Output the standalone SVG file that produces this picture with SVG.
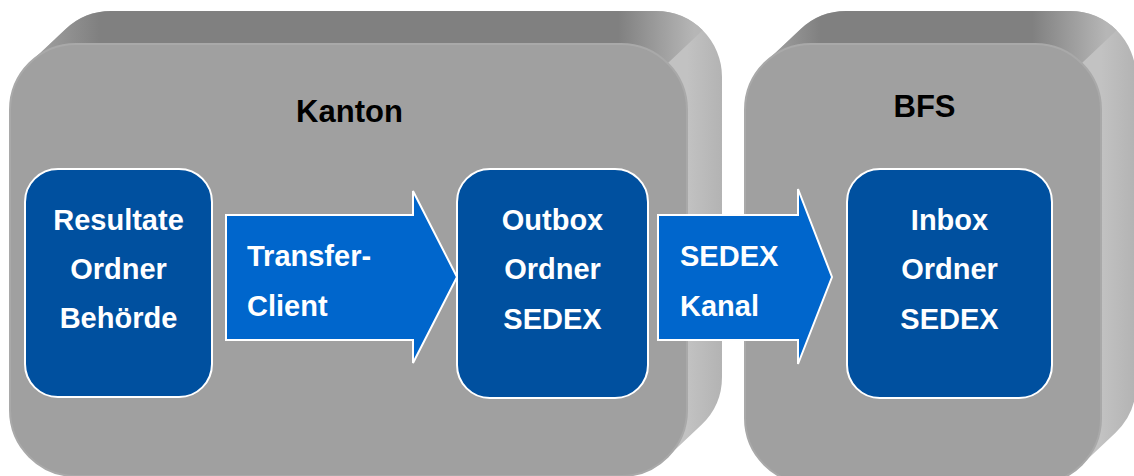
<svg xmlns="http://www.w3.org/2000/svg" width="1134" height="476" viewBox="0 0 1134 476">
<defs>
<linearGradient id="topK" gradientUnits="userSpaceOnUse" x1="30" y1="0" x2="722" y2="0">
<stop offset="0" stop-color="#a4a4a4"/>
<stop offset="0.1" stop-color="#808080"/>
<stop offset="0.85" stop-color="#808080"/>
<stop offset="0.96" stop-color="#b6b6b6"/>
<stop offset="1" stop-color="#b6b6b6"/>
</linearGradient>
<linearGradient id="topB" gradientUnits="userSpaceOnUse" x1="765" y1="0" x2="1136" y2="0">
<stop offset="0" stop-color="#a4a4a4"/>
<stop offset="0.15" stop-color="#808080"/>
<stop offset="0.72" stop-color="#808080"/>
<stop offset="0.92" stop-color="#b6b6b6"/>
<stop offset="1" stop-color="#b6b6b6"/>
</linearGradient>
<linearGradient id="sideK" gradientUnits="userSpaceOnUse" x1="687" y1="0" x2="722" y2="0">
<stop offset="0" stop-color="#c2c2c2"/>
<stop offset="1" stop-color="#b3b3b3"/>
</linearGradient>
<linearGradient id="sideB" gradientUnits="userSpaceOnUse" x1="1101" y1="0" x2="1136" y2="0">
<stop offset="0" stop-color="#c2c2c2"/>
<stop offset="1" stop-color="#b3b3b3"/>
</linearGradient>
</defs>
<style>
.front{fill:#a0a0a0;stroke:#a9a9a9;stroke-width:2}
.node{fill:#00509f;stroke:#ffffff;stroke-width:2}
.arrow{fill:#0066cc;stroke:#ffffff;stroke-width:2}
.title{font-family:"Liberation Sans",Arial,sans-serif;font-weight:bold;font-size:31px;fill:#000000;text-anchor:middle}
.lbl{font-family:"Liberation Sans",Arial,sans-serif;font-weight:bold;font-size:29px;fill:#ffffff;text-anchor:middle}
.albl{font-family:"Liberation Sans",Arial,sans-serif;font-weight:bold;font-size:29px;fill:#ffffff}
</style>
<rect width="1134" height="476" fill="#ffffff"/>

<g id="kanton">
<path fill="url(#sideK)" d="M30.7,62 L65.7,29 A66,66 0 0 1 111,11 L656,11 A66,66 0 0 1 722,77 L722,377 A66,66 0 0 1 701.3,425 L666.3,458 Z"/>
<path fill="url(#topK)" d="M30.7,62 L65.7,29 A66,66 0 0 1 111,11 L656,11 A66,66 0 0 1 702.7,30.3 L667.7,63.3 A66,66 0 0 0 621,44 L76,44 A66,66 0 0 0 30.7,62 Z"/>
<rect class="front" x="10" y="44" width="677" height="432" rx="66" ry="66"/>
<text class="title" x="349.5" y="122">Kanton</text>
</g>

<g id="bfs">
<path fill="url(#sideB)" d="M765.7,62 L800.7,29 A66,66 0 0 1 846,11 L1070,11 A66,66 0 0 1 1136,77 L1136,385 A66,66 0 0 1 1115.3,433 L1080.3,466 Z"/>
<path fill="url(#topB)" d="M765.7,62 L800.7,29 A66,66 0 0 1 846,11 L1070,11 A66,66 0 0 1 1116.7,30.3 L1081.7,63.3 A66,66 0 0 0 1035,44 L811,44 A66,66 0 0 0 765.7,62 Z"/>
<rect class="front" x="745" y="44" width="356" height="440" rx="66" ry="66"/>
<text class="title" x="924.5" y="117">BFS</text>
</g>

<g id="resultate">
<rect class="node" x="25" y="169" width="187" height="228" rx="33" ry="33"/>
<text class="lbl" x="118.5" y="230">Resultate</text>
<text class="lbl" x="118.5" y="279">Ordner</text>
<text class="lbl" x="118.5" y="328">Behörde</text>
</g>

<g id="outbox">
<rect class="node" x="457" y="169" width="191" height="229" rx="33" ry="33"/>
<text class="lbl" x="552.5" y="230">Outbox</text>
<text class="lbl" x="552.5" y="279">Ordner</text>
<text class="lbl" x="552.5" y="329">SEDEX</text>
</g>

<g id="inbox">
<rect class="node" x="847" y="169" width="205" height="229" rx="33" ry="33"/>
<text class="lbl" x="949.5" y="230">Inbox</text>
<text class="lbl" x="949.5" y="279">Ordner</text>
<text class="lbl" x="949.5" y="329">SEDEX</text>
</g>

<g id="connectors">
<g id="transfer-client">
<path class="arrow" d="M226,215 L413,215 L413,191 L457,277 L413,363 L413,340 L226,340 Z"/>
<text class="albl" x="247" y="266">Transfer-</text>
<text class="albl" x="247" y="316">Client</text>
</g>
<g id="sedex-kanal">
<path class="arrow" d="M658,215 L798,215 L798,189 L832,277 L798,364 L798,340 L658,340 Z"/>
<text class="albl" x="680" y="266">SEDEX</text>
<text class="albl" x="680" y="316">Kanal</text>
</g>
</g>
</svg>
